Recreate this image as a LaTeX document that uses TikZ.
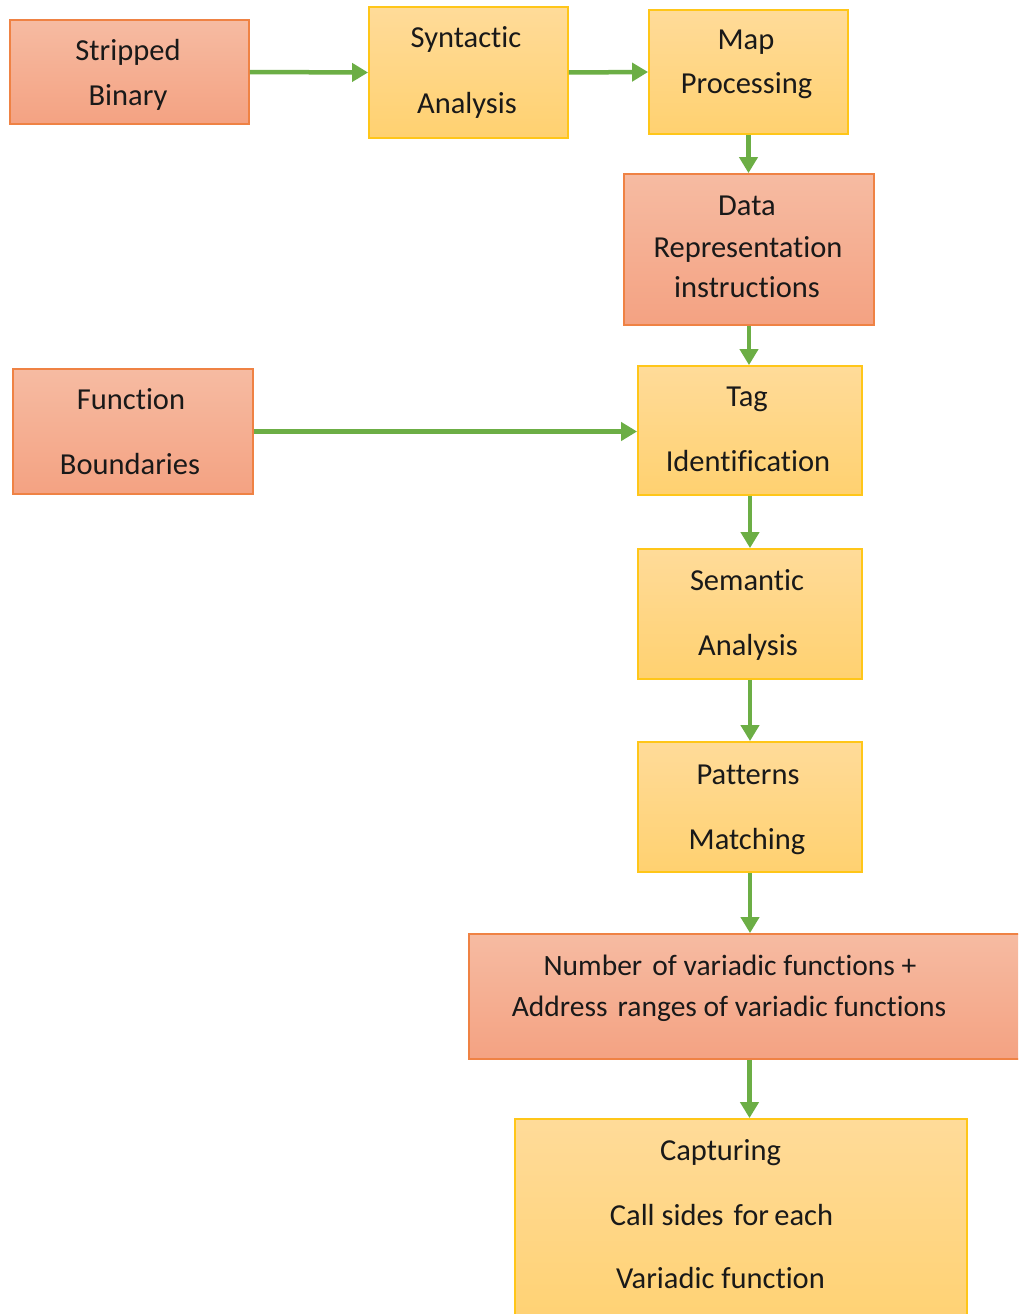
\documentclass[tikz,border=0pt]{standalone}
\usepackage{fontspec}
\setmainfont{Carlito}[Ligatures=NoCommon]
\usetikzlibrary{arrows.meta}
\definecolor{orTop}{HTML}{F6BBA2}
\definecolor{orBot}{HTML}{F4A282}
\definecolor{orLine}{HTML}{EF8244}
\definecolor{yeTop}{HTML}{FFDB99}
\definecolor{yeBot}{HTML}{FFD170}
\definecolor{yeLine}{HTML}{FFC619}
\definecolor{flow}{HTML}{6CAE45}
\tikzset{
  x=1pt, y=1pt,
  box/.style={rectangle, inner sep=0pt, line width=1.8pt},
  obox/.style={box, draw=orLine, top color=orTop, bottom color=orBot},
  ybox/.style={box, draw=yeLine, top color=yeTop, bottom color=yeBot},
  lbl/.style={anchor=base, inner sep=0pt, text=black!90,
    font=\fontsize{30.5}{34}\selectfont},
  widelbl/.style={lbl, font=\fontsize{29.5}{34}\selectfont},
  flowarrow/.style={draw=flow, line width=4.5pt,
    -{Triangle[length=16pt, width=18pt]}}
}
\begin{document}
\begin{tikzpicture}
\useasboundingbox (0,0) rectangle (1018,-1314);
\clip (0,0) rectangle (1018,-1314);
\fill[white] (0,0) rectangle (1018,-1314);

% process boxes
\node[obox, minimum width=239pt, minimum height=104pt] (sb) at (129.5,-72) {};
\node[ybox, minimum width=199pt, minimum height=131pt] (sa) at (468.5,-72.5) {};
\node[ybox, minimum width=199pt, minimum height=124pt] (mp) at (748.5,-72) {};
\node[obox, minimum width=250pt, minimum height=151pt] (dr) at (749,-249.5) {};
\node[obox, minimum width=240pt, minimum height=125pt] (fb) at (133,-431.5) {};
\node[ybox, minimum width=224pt, minimum height=129pt] (ti) at (750,-430.5) {};
\node[ybox, minimum width=224pt, minimum height=130pt] (se) at (750,-614) {};
\node[ybox, minimum width=224pt, minimum height=130pt] (pm) at (750,-807) {};
\node[obox, minimum width=561pt, minimum height=125pt] (nv) at (749.5,-996.5) {};
\node[ybox, minimum width=452pt, minimum height=221pt] (cs) at (741,-1229.5) {};

% box labels
\node[lbl] (sb1) at (128,-61) {Stripped};
\node[lbl] (sb2) at (128,-105) {Binary};
\node[lbl] (sa1) at (466,-48) {Syntactic};
\node[lbl] (sa2) at (467,-113) {Analysis};
\node[lbl] (mp1) at (746,-50) {Map};
\node[lbl] (mp2) at (746.5,-93) {Processing};
\node[lbl] (dr1) at (747,-215) {Data};
\node[lbl] (dr2) at (748,-257) {Representation};
\node[lbl] (dr3) at (747,-297) {instructions};
\node[lbl] (fb1) at (131,-409) {Function};
\node[lbl] (fb2) at (130,-474) {Boundaries};
\node[lbl] (ti1) at (747,-406) {Tag};
\node[lbl] (ti2) at (748,-471) {Identification};
\node[lbl] (se1) at (747,-590) {Semantic};
\node[lbl] (se2) at (748,-655) {Analysis};
\node[lbl] (pm1) at (748,-784) {Patterns};
\node[lbl] (pm2) at (747,-849) {Matching};
\node[widelbl] (nv1) at (730,-975) {Number\hspace{0.12em} of variadic functions +};
\node[widelbl] (nv2) at (729,-1016) {Address\hspace{0.12em} ranges of variadic functions};
\node[lbl] (cs1) at (720.5,-1160) {Capturing};
\node[lbl] (cs2) at (721.5,-1225) {Call sides\hspace{0.1em} for\hspace{-0.05em} each};
\node[lbl] (cs3) at (720.5,-1288) {Variadic function};

% flow connectors
\draw[flowarrow] (sb.east) -- (sa.west);
\draw[flowarrow] (sa.east) -- (mp.west);
\draw[flowarrow] (mp.south) -- (mp.south |- dr.north);
\draw[flowarrow] (dr.south) -- (dr.south |- ti.north);
\draw[flowarrow] (fb.east) -- (fb.east -| ti.west);
\draw[flowarrow] (ti.south) -- (se.north);
\draw[flowarrow] (se.south) -- (pm.north);
\draw[flowarrow] (pm.south) -- (pm.south |- nv.north);
\draw[flowarrow] (nv.south) -- (nv.south |- cs.north);
\end{tikzpicture}
\end{document}
